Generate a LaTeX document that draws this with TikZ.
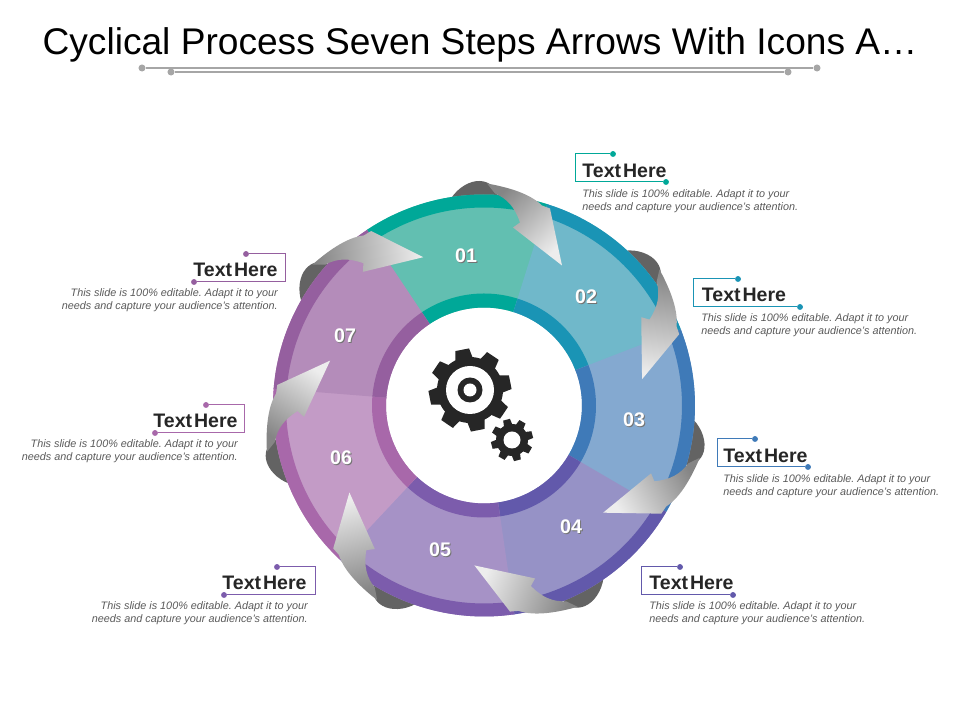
\documentclass[tikz,border=0pt]{standalone}
\usepackage{fontspec}
\setmainfont{Liberation Sans}
\definecolor{bandA}{HTML}{00A898}\definecolor{baseA}{HTML}{62BFB1}\definecolor{glowA}{HTML}{80D2C6}
\definecolor{bandB}{HTML}{1A94B5}\definecolor{baseB}{HTML}{70B8CA}\definecolor{glowB}{HTML}{84C6D4}
\definecolor{bandC}{HTML}{3F7AB8}\definecolor{baseC}{HTML}{84A9D0}\definecolor{glowC}{HTML}{9EC0DE}
\definecolor{bandD}{HTML}{6259AB}\definecolor{baseD}{HTML}{9692C6}\definecolor{glowD}{HTML}{B0A8D2}
\definecolor{bandE}{HTML}{7C5CAC}\definecolor{baseE}{HTML}{A692C6}\definecolor{glowE}{HTML}{B4A4D0}
\definecolor{bandF}{HTML}{A868AA}\definecolor{baseF}{HTML}{C39BC6}\definecolor{glowF}{HTML}{D6B2D4}
\definecolor{bandG}{HTML}{955F9F}\definecolor{baseG}{HTML}{B48CBA}\definecolor{glowG}{HTML}{C6A4CA}
\definecolor{darktab}{HTML}{636363}
\definecolor{gearblack}{HTML}{262626}
\definecolor{bodygray}{HTML}{595959}
\definecolor{rulegray}{HTML}{A6A6A6}
\tikzset{
  headline/.style={font=\fontsize{26.4}{30}\selectfont,text=black,inner sep=0},
  stepnum/.style={font=\fontsize{14}{16}\selectfont\bfseries,text=white,inner sep=0},
  stepshadow/.style={font=\fontsize{14}{16}\selectfont\bfseries,text=black!55,inner sep=0},
  blocktitle/.style={font=\fontsize{13.9}{15}\selectfont\bfseries,text=gearblack,inner sep=0},
  blockbody/.style={font=\fontsize{7.7}{9.25}\selectfont\itshape\frenchspacing,text=bodygray,inner sep=0},
  tipdot/.style={circle,fill,inner sep=0,minimum size=4.2pt},
  ruledot/.style={circle,fill=rulegray,inner sep=0,minimum size=5pt},
}
\begin{document}
\begin{tikzpicture}[x=0.025cm,y=0.025cm]
\useasboundingbox (0,0) rectangle (960,720);
% title and its rules
\node[headline] (headline) at (480,675) {Cyclical Process Seven Steps Arrows With Icons A…};
\node[ruledot] (ruleAl) at (142,652) {};
\node[ruledot] (ruleAr) at (817,652) {};
\node[ruledot] (ruleBl) at (171,648) {};
\node[ruledot] (ruleBr) at (788,648) {};
\draw[rulegray,line width=1.4pt] (ruleAl) -- (ruleAr);
\draw[rulegray,line width=1.4pt] (ruleBl) -- (ruleBr);
% dark tabs behind the ring
\foreach \r in {0,-51.43,-102.86,-154.29,-208,-257.15,-308.58}{
\begin{scope}[shift={(484,314.5)},rotate=\r]
\fill[darktab] (-33,207) .. controls (-26,218) and (-14,225) .. (-4,224.5) .. controls (5,224) and (10,219) .. (13,212) -- (13,195) -- (-33,195) -- cycle;
\end{scope}
}
% ring segments
\begin{scope}[shift={(484,314.5)}]
\foreach \i/\band/\base/\glow in {0/bandA/baseA/glowA,1/bandB/baseB/glowB,2/bandC/baseC/glowC,3/bandD/baseD/glowD,4/bandE/baseE/glowE,5/bandF/baseF/glowF,6/bandG/baseG/glowG}{
\pgfmathsetmacro\a{124-51.43*\i}
\pgfmathsetmacro\b{\a-51.43}
\pgfmathsetmacro\m{\a-25.7}
\pgfmathsetmacro\bb{\b-0.3}
\shade[bottom color=\base,middle color=\glow,top color=\base,shading angle=\m] (\a:98) -- (\a:211) arc[start angle=\a,end angle=\bb,radius=211] -- (\bb:98) arc[start angle=\bb,end angle=\a,radius=98] -- cycle;
\fill[\band] (\a:198) -- (\a:211) arc[start angle=\a,end angle=\bb,radius=211] -- (\bb:198) arc[start angle=\bb,end angle=\a,radius=198] -- cycle;
\fill[\band] (\a:98) -- (\a:112) arc[start angle=\a,end angle=\bb,radius=112] -- (\bb:98) arc[start angle=\bb,end angle=\a,radius=98] -- cycle;
}
\end{scope}
% gray arrows
\foreach \r in {0,-51.43,-102.86,-154.29,-208,-257.15,-308.58}{
\pgfmathsetmacro\s{-137+\r}
\begin{scope}[shift={(484,314.5)},rotate=\r]
\shade[bottom color=black!48,middle color=black!24,top color=black!7,shading angle=\s] (3,222) .. controls (20,219) and (45,213) .. (58,200) -- (66,197) -- (78,140) -- (29,178) -- (36,183) .. controls (31,198) and (23,207) .. (11,212) -- cycle;
\end{scope}
}
% gears
\begin{scope}[shift={(470,330)}]
\foreach \t in {0,...,7}
\fill[gearblack,rotate=11+45*\t] (30,-9) -- (41,-7) -- (41,7) -- (30,9) -- cycle;
\fill[gearblack] (0,0) circle[radius=33];
\fill[white] (0,0) circle[radius=24];
\fill[gearblack] (0,0) circle[radius=12.5];
\fill[white] (0,0) circle[radius=6.5];
\end{scope}
\begin{scope}[shift={(512,280)}]
\foreach \t in {0,...,7}
\fill[gearblack,rotate=15+45*\t] (13,-4.5) -- (21,-3.5) -- (21,3.5) -- (13,4.5) -- cycle;
\fill[gearblack] (0,0) circle[radius=16];
\fill[white] (0,0) circle[radius=8.5];
\end{scope}
% step numbers
\foreach \n/\x/\y in {01/466/464,02/586/423,03/634/300,04/571/193,05/440/170,06/341/262,07/345/384}{
\node[stepshadow] (shadow\n) at (\x+1,\y-1) {\n};
\node[stepnum] (num\n) at (\x,\y) {\n};
}
% brackets with end dots
\foreach \n/\col/\xc/\yt/\xa/\xb in {1/bandA/575/566/613/666,2/bandB/693/441/738/800,3/bandC/717/281/755/808,4/bandD/641/153/680/733,5/bandE/315/153/277/224,6/bandF/244/315/206/155,7/bandG/285/466/246/194}{
\node[tipdot,text=\col,fill=\col] (dotup\n) at (\xa,\yt) {};
\node[tipdot,text=\col,fill=\col] (dotdn\n) at (\xb,\yt-28) {};
\coordinate (cornup\n) at (\xc,\yt);
\coordinate (corndn\n) at (\xc,\yt-28);
\draw[\col,line width=0.7pt] (dotup\n) -- (cornup\n) -- (corndn\n) -- (dotdn\n);
}
% block titles
\foreach \n/\x/\y in {1/624.5/549,2/744/425,3/765.5/264,4/691.5/137,5/264.5/137,6/195.5/299,7/235.5/450}
\node[blocktitle] (title\n) at (\x,\y) {Text\hspace{1.4pt}Here};
% block texts
\foreach \n/\x/\y/\anc/\al in {1/582/518.5/west/left,2/701/394.5/west/left,3/723/233.5/west/left,4/649/106.5/west/left,5/308/106.5/east/right,6/238/268.5/east/right,7/278/419.5/east/right}
\node[blockbody,anchor=\anc,align=\al] (body\n) at (\x,\y) {This slide is 100\% editable. Adapt it to your\\needs and capture your audience's attention.};
\end{tikzpicture}
\end{document}
